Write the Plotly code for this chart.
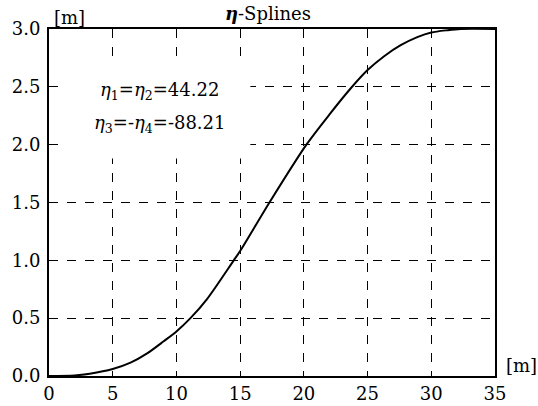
import plotly.graph_objects as go

# Curve (x in m, y in m)
x_vals = [0, 2, 3.2, 5, 6.4, 7.7, 9.0, 10, 11.1, 12.4, 14.5, 15, 17.3, 20.2, 22, 23.7,
          25, 26.3, 27.6, 28.9, 30, 31.3, 32.3, 35]
y_vals = [0, 0.005, 0.02, 0.06, 0.115, 0.195, 0.30, 0.385, 0.50, 0.665, 1.0, 1.08, 1.5, 2.0, 2.26, 2.49,
          2.645, 2.765, 2.86, 2.93, 2.97, 2.99, 3.0, 3.0]

x_ticks = [0, 5, 10, 15, 20, 25, 30, 35]
y_ticks = [0.0, 0.5, 1.0, 1.5, 2.0, 2.5, 3.0]

title_text = "<b><i>η</i></b>-Splines"
label_line1 = "<i>η</i><sub>1</sub>=<i>η</i><sub>2</sub>=44.22"
label_line2 = "<i>η</i><sub>3</sub>=-<i>η</i><sub>4</sub>=-88.21"
unit = "[m]"

FONT = "DejaVu Serif"

fig = go.Figure()
fig.add_trace(go.Scatter(x=x_vals, y=y_vals, mode="lines",
                         line=dict(color="black", width=2, shape="spline", smoothing=0.8),
                         showlegend=False, hoverinfo="skip"))

axis_common = dict(showline=True, linecolor="black", linewidth=2, mirror=True,
                   showgrid=True, gridcolor="black", gridwidth=1, griddash="dash",
                   zeroline=False, ticks="", automargin=False,
                   tickfont=dict(family=FONT, size=18, color="black"))

fig.update_xaxes(range=[0, 35], tickvals=x_ticks, ticktext=[str(v) for v in x_ticks], **axis_common)
fig.update_yaxes(range=[0, 3], tickvals=y_ticks, ticktext=[f"{v:.1f}" for v in y_ticks],
                 ticklabelstandoff=3, **axis_common)

# white box hiding grid behind the text
fig.add_shape(type="rect", xref="x", yref="y", x0=1.4, x1=15.8, y0=1.88, y1=2.71,
              fillcolor="white", line=dict(width=0), layer="between")

fig.add_annotation(x=8.7, y=2.46, xref="x", yref="y", text=label_line1, showarrow=False,
                   font=dict(family=FONT, size=18, color="black"))
fig.add_annotation(x=8.7, y=2.18, xref="x", yref="y", text=label_line2, showarrow=False,
                   font=dict(family=FONT, size=18, color="black"))

fig.add_annotation(x=0.007, y=1.032, xref="paper", yref="paper", text=unit, showarrow=False,
                   xanchor="left", yanchor="middle", font=dict(family=FONT, size=18, color="black"))
fig.add_annotation(x=1.02, y=0.03, xref="paper", yref="paper", text=unit, showarrow=False,
                   xanchor="left", yanchor="middle", font=dict(family=FONT, size=18, color="black"))

fig.update_layout(
    width=538, height=406,
    margin=dict(l=49, r=43, t=29, b=30, autoexpand=False),
    paper_bgcolor="white", plot_bgcolor="white",
    font=dict(family=FONT, color="black"),
    title=dict(text=title_text, x=0.498, xanchor="center", y=0.966, yanchor="middle",
               font=dict(family=FONT, size=18, color="black")),
)

fig.write_html("out.html", config={"displayModeBar": False},
               post_script="document.body.style.margin='0';document.body.style.padding='0';")
